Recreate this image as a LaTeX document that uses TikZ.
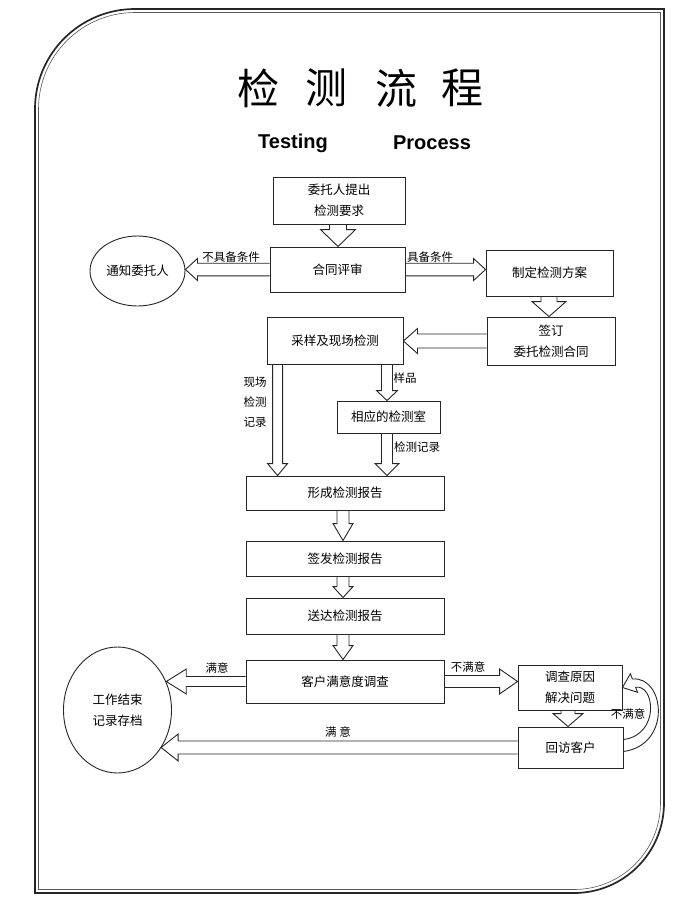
\documentclass[tikz,border=0pt]{standalone}
\usepackage{fontspec}
\setmainfont{Liberation Sans}
\newfontfamily\cjk{Noto Sans CJK SC}
\usetikzlibrary{shapes.geometric,calc}
\tikzset{
  box/.style={draw=black!85, line width=0.9pt, fill=white, inner sep=0pt, align=center,
              font=\cjk\fontsize{12.5}{21}\selectfont},
  ell/.style={draw=black!85, line width=0.9pt, ellipse, inner sep=0pt, align=center,
              font=\cjk\fontsize{12.5}{21}\selectfont},
  blk/.style={draw=black!85, line width=0.9pt, line join=miter},
  lbl/.style={font=\cjk\fontsize{11.5}{20}\selectfont, inner sep=0pt, align=center},
  ttl/.style={font=\cjk\fontsize{42}{42}\selectfont, inner sep=0pt},
  eng/.style={font=\bfseries\fontsize{20}{20}\selectfont, inner sep=0pt},
  frameout/.style={draw=black!85, line width=1.7pt},
  framein/.style={draw=black!65, line width=0.6pt},
}
% hollow block arrows: #1 start, #2 end, #3 shaft half width, #4 head half width, #5 head length
\newcommand\dnarrow[5]{\draw[blk] let \p1=#1, \p2=#2 in
  (\x1-#3,\y1) -- (\x1-#3,\y2+#5) -- (\x1-#4,\y2+#5) -- (\x1,\y2) -- (\x1+#4,\y2+#5) -- (\x1+#3,\y2+#5) -- (\x1+#3,\y1);}
\newcommand\lfarrow[5]{\draw[blk] let \p1=#1, \p2=#2 in
  (\x1,\y1+#3) -- (\x2+#5,\y1+#3) -- (\x2+#5,\y1+#4) -- (\x2,\y1) -- (\x2+#5,\y1-#4) -- (\x2+#5,\y1-#3) -- (\x1,\y1-#3);}
\newcommand\rtarrow[5]{\draw[blk] let \p1=#1, \p2=#2 in
  (\x1,\y1+#3) -- (\x2-#5,\y1+#3) -- (\x2-#5,\y1+#4) -- (\x2,\y1) -- (\x2-#5,\y1-#4) -- (\x2-#5,\y1-#3) -- (\x1,\y1-#3);}
\begin{document}
\begin{tikzpicture}[x=1pt,y=-1pt]
\useasboundingbox (0,0) rectangle (700,900);
\fill[white] (0,0) rectangle (700,900);
% frame
\draw[frameout] (35,500) [rounded corners=100pt] -- (35,9) -- (300,9) [sharp corners] -- (664,9) -- (664,500)
  [rounded corners=90pt] -- (664,893) -- (300,893) [sharp corners] -- (35,893) -- cycle;
\draw[framein] (38.5,500) [rounded corners=96.5pt] -- (38.5,12.5) -- (300,12.5) [sharp corners] -- (660.5,12.5) -- (660.5,500)
  [rounded corners=86.5pt] -- (660.5,889.5) -- (300,889.5) [sharp corners] -- (38.5,889.5) -- cycle;
% title
\node[ttl] (t1) at (258,88) {检};
\node[ttl] (t2) at (326,88) {测};
\node[ttl] (t3) at (396,88) {流};
\node[ttl] (t4) at (462,88) {程};
\node[eng] (en1) at (293,143) {Testing};
\node[eng] (en2) at (432,143) {Process};
% nodes
\node[box, minimum width=132pt, minimum height=47pt] (b1) at (339,200.5) {委托人提出\\检测要求};
\node[box, minimum width=135pt, minimum height=45pt] (b2) at (337.5,269.5) {合同评审};
\node[ell, minimum width=95pt, minimum height=70pt] (e1) at (137.5,271) {通知委托人};
\node[box, minimum width=127pt, minimum height=46pt] (b3) at (549.5,273) {制定检测方案};
\node[box, minimum width=128pt, minimum height=48pt] (b4) at (551,341) {签订\\委托检测合同};
\node[box, minimum width=136pt, minimum height=47pt] (b5) at (335,340.5) {采样及现场检测};
\node[box, minimum width=103pt, minimum height=32pt] (b6) at (388.5,417) {相应的检测室};
\node[box, minimum width=198pt, minimum height=34pt] (b7) at (345,493) {形成检测报告};
\node[box, minimum width=198pt, minimum height=35pt] (b8) at (345,558.5) {签发检测报告};
\node[box, minimum width=198pt, minimum height=36pt] (b9) at (345,616) {送达检测报告};
\node[box, minimum width=198pt, minimum height=43pt] (b10) at (345,681.5) {客户满意度调查};
\node[ell, minimum width=108pt, minimum height=126pt] (e2) at (117.5,710) {工作结束\\记录存档};
\node[box, minimum width=104pt, minimum height=45pt] (b11) at (570,687.5) {调查原因\\解决问题};
\node[box, minimum width=105pt, minimum height=41pt] (b12) at (570.5,747.5) {回访客户};
% arrows
\dnarrow{([xshift=-1pt]b1.south)}{(b2.north)}{8.5pt}{17.5pt}{17pt}
\lfarrow{(b2.west)}{(e1.east)}{6.3pt}{11pt}{12pt}
\rtarrow{(b2.east)}{(b3.west)}{6.3pt}{11pt}{12pt}
\dnarrow{([xshift=-0.5pt]b3.south)}{(b4.north)}{8pt}{17pt}{15pt}
\lfarrow{(b4.west)}{(b5.east)}{7pt}{12.5pt}{14pt}
\dnarrow{([xshift=11pt]b5.south west)}{(b7.north)}{5pt}{10pt}{12pt}
\dnarrow{([xshift=52pt]b5.south)}{(b6.north)}{5.5pt}{10.5pt}{10pt}
\dnarrow{([xshift=-1.5pt]b6.south)}{(b7.north)}{5.5pt}{12pt}{12pt}
\dnarrow{([xshift=-2pt]b7.south)}{(b8.north)}{6pt}{10pt}{17pt}
\dnarrow{([xshift=-2pt]b8.south)}{(b9.north)}{6pt}{10pt}{11pt}
\dnarrow{([xshift=-2pt]b9.south)}{(b10.north)}{6pt}{10pt}{14pt}
\lfarrow{(b10.west)}{(e2.30)}{5pt}{12.5pt}{20pt}
\rtarrow{(b10.east)}{(b11.west)}{6pt}{12.5pt}{18pt}
\dnarrow{([xshift=-2pt]b11.south)}{(b12.north)}{7pt}{15pt}{13pt}
\lfarrow{(b12.west)}{(e2.-41)}{6.5pt}{13.5pt}{17pt}
% curved return arrow
\draw[blk] ([yshift=-4pt]b12.east) .. controls (672,745) and (665,676) .. (632.4,679)
  -- (630.4,673.7) -- (b11.east) -- (637.6,692.3) -- (635.6,687.2)
  .. controls (655,684) and (660,735) .. ([yshift=8pt]b12.east);
% labels
\node[lbl] (l1) at (231,257) {不具备条件};
\node[lbl] (l2) at (430,257) {具备条件};
\node[lbl] (l3) at (255,402) {现场\\检测\\记录};
\node[lbl] (l4) at (405,378) {样品};
\node[lbl] (l5) at (417,447) {检测记录};
\node[lbl] (l6) at (217,668) {满意};
\node[lbl] (l7) at (468,667) {不满意};
\node[lbl] (l8) at (338,732) {满\ 意};
\node[lbl] (l9) at (628,714) {不满意};
\end{tikzpicture}
\end{document}
